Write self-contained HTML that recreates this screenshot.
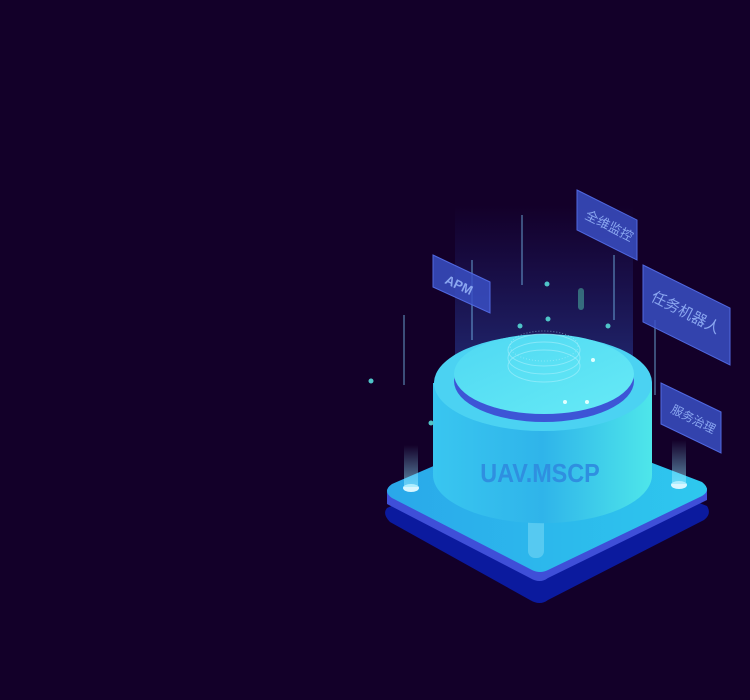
<!DOCTYPE html>
<html><head><meta charset="utf-8"><style>
html,body{margin:0;padding:0;background:#130029;}
svg{display:block}
text{font-family:"Liberation Sans","Noto Sans CJK SC",sans-serif;}
</style></head><body>
<svg width="750" height="700" viewBox="0 0 750 700" xmlns="http://www.w3.org/2000/svg">
<defs>
<linearGradient id="beam" x1="0" y1="0" x2="0" y2="1">
<stop offset="0" stop-color="#3a5cff" stop-opacity="0"/>
<stop offset="1" stop-color="#3a7cff" stop-opacity="0.35"/>
</linearGradient>
<linearGradient id="body" x1="0" y1="0" x2="1" y2="0">
<stop offset="0" stop-color="#39c6f0"/>
<stop offset="0.5" stop-color="#2fb4ea"/>
<stop offset="1" stop-color="#4ee6ea"/>
</linearGradient>
<linearGradient id="top" x1="0" y1="0" x2="1" y2="1">
<stop offset="0" stop-color="#4fd8f2"/>
<stop offset="1" stop-color="#66eaf6"/>
</linearGradient>
<linearGradient id="base" x1="0" y1="0" x2="1" y2="0">
<stop offset="0" stop-color="#2aa8ea"/>
<stop offset="1" stop-color="#2ec8ee"/>
</linearGradient>
<linearGradient id="pole" x1="0" y1="0" x2="0" y2="1">
<stop offset="0" stop-color="#8fe8ff" stop-opacity="0"/>
<stop offset="1" stop-color="#8fe8ff" stop-opacity="0.6"/>
</linearGradient>
</defs>
<rect width="750" height="700" fill="#130029"/>
<!-- beam -->
<rect x="455" y="205" width="178" height="180" fill="url(#beam)"/>
<!-- base underside -->
<path d="M387,508 L540,440 L707,506 Q712,514 704,520 L548,600 Q540,606 530,600 L390,522 Q382,514 387,508Z" fill="#0b1a9e"/>
<path d="M387,490 L540,440 L707,488 L707,500 L548,578 Q540,584 530,578 L387,504Z" fill="#3f4fd8"/>
<!-- base top -->
<path d="M392,484 L540,420 L702,482 Q712,490 702,496 L548,570 Q540,574 532,570 L392,498 Q382,491 392,484Z" fill="url(#base)"/>
<ellipse cx="411" cy="488" rx="8" ry="4" fill="#d8f6ff"/>
<ellipse cx="679" cy="485" rx="8" ry="4" fill="#d8f6ff"/>
<rect x="404" y="445" width="14" height="42" fill="url(#pole)"/>
<rect x="672" y="440" width="14" height="44" fill="url(#pole)"/>
<rect x="528" y="512" width="16" height="46" rx="7" fill="#7fdcf6" opacity="0.5"/>
<!-- cylinder body -->
<path d="M433,383 L433,475 A109,48 0 0 0 652,475 L652,383Z" fill="url(#body)"/>
<ellipse cx="543" cy="383" rx="109" ry="48" fill="#4bd2f2"/>
<ellipse cx="544" cy="381" rx="90" ry="41" fill="#3d55d6"/>
<ellipse cx="544" cy="374" rx="90" ry="40" fill="url(#top)"/>
<g fill="none" stroke="#b8f4ff" stroke-opacity="0.5">
<ellipse cx="544" cy="350" rx="36" ry="16"/>
<ellipse cx="544" cy="358" rx="36" ry="16"/>
<ellipse cx="544" cy="366" rx="36" ry="16"/>
<ellipse cx="544" cy="346" rx="34" ry="15" stroke-dasharray="1 2"/>
</g>
<text x="540" y="482" font-size="26" font-weight="bold" fill="#2f8fe0" text-anchor="middle" transform="scale(0.9,1) translate(60,0)">UAV.MSCP</text>
<!-- lines and dots -->
<g stroke="#7fd0ff" stroke-opacity="0.5" stroke-width="1.5">
<line x1="404" y1="315" x2="404" y2="385"/>
<line x1="472" y1="260" x2="472" y2="340"/>
<line x1="522" y1="215" x2="522" y2="285"/>
<line x1="614" y1="255" x2="614" y2="320"/>
<line x1="655" y1="320" x2="655" y2="395"/>
</g>
<g fill="#4fc4c8">
<circle cx="371" cy="381" r="2.5"/><circle cx="431" cy="423" r="2.5"/>
<circle cx="547" cy="284" r="2.5"/><circle cx="548" cy="319" r="2.5"/>
<circle cx="520" cy="326" r="2.5"/><circle cx="608" cy="326" r="2.5"/>
</g>
<g fill="#e0ffff"><circle cx="593" cy="360" r="2"/><circle cx="565" cy="402" r="2"/><circle cx="587" cy="402" r="2"/></g>
<rect x="578" y="288" width="6" height="22" rx="3" fill="#5ff0c0" opacity="0.4"/>
<!-- panels -->
<g fill="#3a4fc4" fill-opacity="0.85" stroke="#5068e0" stroke-width="1">
<path d="M433,255 L490,282 L490,313 L433,287Z"/>
<path d="M577,190 L637,220 L637,260 L577,230Z"/>
<path d="M643,265 L730,308 L730,365 L643,322Z"/>
<path d="M661,383 L721,412 L721,453 L661,424Z"/>
</g>
<g fill="#8aa6f0" font-size="13">
<text x="444" y="283" transform="rotate(25 444 283)" font-weight="bold">APM</text>
<text x="584" y="218" transform="rotate(27 584 218)">全维监控</text>
<text x="650" y="300" font-size="15" transform="rotate(27 650 300)">任务机器人</text>
<text x="670" y="412" font-size="12" transform="rotate(27 670 412)">服务治理</text>
</g>
</svg>
</body></html>
